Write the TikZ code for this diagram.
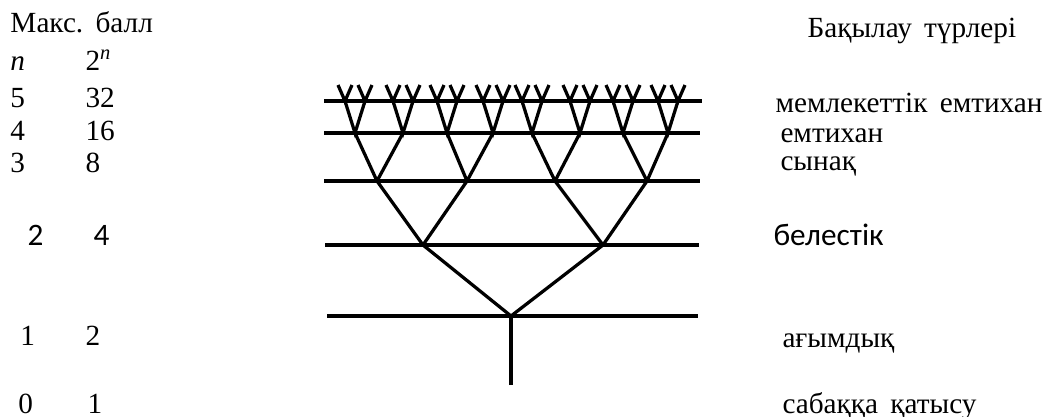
\documentclass[tikz,border=0pt]{standalone}
\usepackage{fontspec}
\setmainfont{Liberation Serif}
\newfontfamily\calibrifont{Carlito}
\usetikzlibrary{calc}

\newcommand{\gap}{\hspace{0.42em}}

\tikzset{
  levelline/.style={line width=1.3pt},
  branch/.style={line width=1.3pt},
  lbl/.style={anchor=base west, inner sep=0pt, font=\fontsize{11.7}{14}\selectfont},
  lblc/.style={lbl, font=\calibrifont\fontsize{12.5}{14}\selectfont}
}

\begin{document}
\begin{tikzpicture}[x=0.4pt, y=-0.4pt]
  \useasboundingbox (0,0) rectangle (1047,416);

  % Level lines
  \foreach \y/\xa/\xb in {101/324/702, 133/324/700, 181/324/700, 245/325/699, 316/327/698}
    \draw[levelline] (\xa,\y) -- (\xb,\y);

  % Stem and root
  \coordinate (root) at (511,316);
  \coordinate (stem) at (511,385);
  \draw[branch] (stem) -- (root);

  % Level 2
  \coordinate (a1) at (423,245);
  \coordinate (a2) at (603,245);
  \draw[branch] (a1) -- (root) -- (a2);

  % Level 3
  \foreach \i/\x/\p in {1/377/1, 2/467/1, 3/555/2, 4/647/2} {
    \coordinate (b\i) at (\x,181);
    \draw[branch] (b\i) -- (a\p);
  }

  % Level 4
  \foreach \i/\x/\p in {1/355/1, 2/403/1, 3/447/2, 4/493/2, 5/532/3, 6/580/3, 7/623/4, 8/668/4} {
    \coordinate (c\i) at (\x,133);
    \draw[branch] (c\i) -- (b\p);
  }

  % Level 5 and the tips
  \foreach \i in {1,...,8} {
    \coordinate (dl\i) at ($(c\i)+(-10,-32)$);
    \coordinate (dr\i) at ($(c\i)+(10,-32)$);
    \draw[branch] (dl\i) -- (c\i) -- (dr\i);
    \foreach \d in {dl\i, dr\i} {
      \coordinate (\d tl) at ($(\d)+(-7,-16)$);
      \coordinate (\d tr) at ($(\d)+(7,-16)$);
      \draw[branch] (\d tl) -- (\d) -- (\d tr);
    }
  }

  % Left column: n and 2^n
  \node[lbl] (maxball) at (10,32) {Макс.\gap балл};
  \node[lbl] (nhead) at (10,70) {\textit{n}};
  \node[lbl] (phead) at (85,70) {2\textsuperscript{\textit{n}}};
  \node[lbl] (n5) at (10,107) {5};
  \node[lbl] (p5) at (85,107) {32};
  \node[lbl] (n4) at (10,140) {4};
  \node[lbl] (p4) at (85,140) {16};
  \node[lbl] (n3) at (10,172) {3};
  \node[lbl] (p3) at (85,172) {8};
  \node[lblc] (n2) at (27,245) {2};
  \node[lblc] (p2) at (93,245) {4};
  \node[lbl] (n1) at (20,345) {1};
  \node[lbl] (p1) at (85,345) {2};
  \node[lbl] (n0) at (18,413) {0};
  \node[lbl] (p0) at (87,413) {1};

  % Right column: kinds of control
  \node[lbl] (kinds) at (807,37) {Бақылау\gap түрлері};
  \node[lbl] (k5) at (775,112) {мемлекеттік\gap емтихан};
  \node[lbl] (k4) at (780,142) {емтихан};
  \node[lbl] (k3) at (780,170) {сынақ};
  \node[lblc] (k2) at (773,245) {белестік};
  \node[lbl] (k1) at (782,347) {ағымдық};
  \node[lbl] (k0) at (782,413) {сабаққа\gap қатысу};
\end{tikzpicture}
\end{document}
